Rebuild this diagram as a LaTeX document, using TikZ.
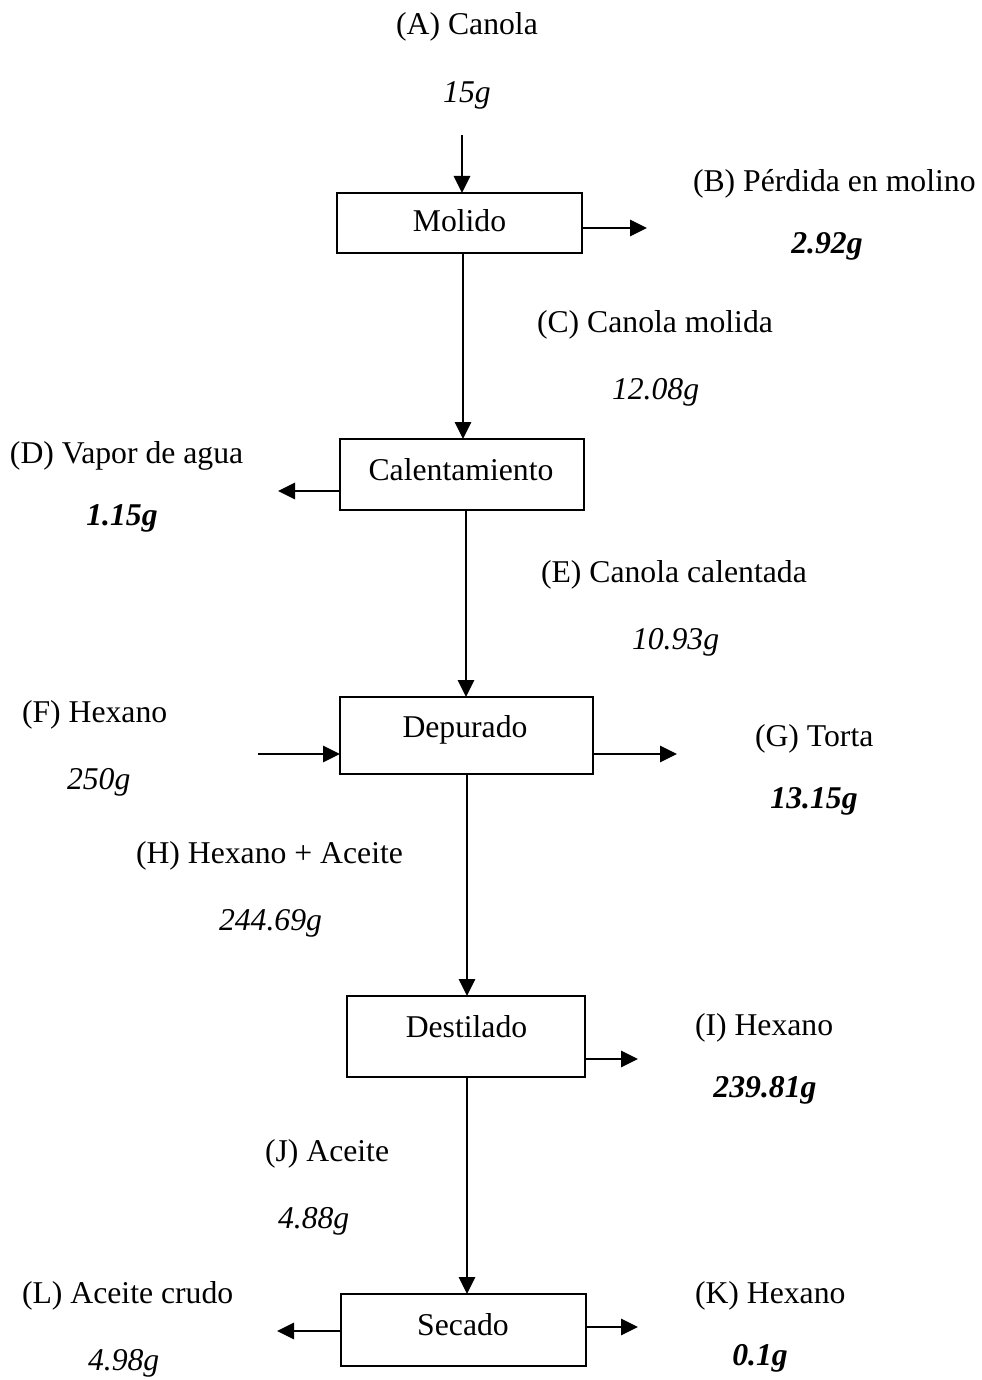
\documentclass[tikz,border=0pt]{standalone}
\usepackage{fontspec}
\setmainfont{Liberation Serif}
\usetikzlibrary{arrows.meta}
\begin{document}
\begin{tikzpicture}[x=0.5pt,y=-0.5pt,
  every node/.style={inner sep=0pt,outer sep=0pt,font=\fontsize{15.85}{19}\selectfont},
  stagebox/.style={draw,line width=1.1pt,rectangle},
  flow/.style={line width=1.45pt,-{Triangle[length=8.5pt,width=8pt]}},
  txt/.style={anchor=base},
  ltxt/.style={anchor=base west},
  qty/.style={font=\fontsize{15.85}{19}\selectfont\itshape},
  bqty/.style={font=\fontsize{15.85}{19}\selectfont\bfseries\itshape}]
\useasboundingbox (0,0) rectangle (981,1380);

% process stages
\node[stagebox,minimum width=122.5pt,minimum height=30pt] (molido) at (459.5,223) {};
\node[txt] (molidoT) at (459.5,232) {Molido};
\node[stagebox,minimum width=122pt,minimum height=35.5pt] (cal) at (462,474.5) {};
\node[txt] (calT) at (461,480) {Calentamiento};
\node[stagebox,minimum width=126.5pt,minimum height=38.5pt] (dep) at (466.5,735.5) {};
\node[txt] (depT) at (465,737) {Depurado};
\node[stagebox,minimum width=119pt,minimum height=40.5pt] (dest) at (466,1036.5) {};
\node[txt] (destT) at (466.5,1037) {Destilado};
\node[stagebox,minimum width=122.5pt,minimum height=36pt] (sec) at (463.5,1330) {};
\node[txt] (secT) at (463,1335) {Secado};

% stream labels
\node[txt] (A) at (467,35) {(A) Canola};
\node[txt,qty] (Aq) at (467,103) {15g};
\node[ltxt] (B) at (693,192) {(B) Pérdida en molino};
\node[txt,bqty] (Bq) at (827,254) {2.92g};
\node[ltxt] (C) at (537,332) {(C) Canola molida};
\node[ltxt,qty] (Cq) at (612,399) {12.08g};
\node[ltxt] (D) at (10,463) {(D) Vapor de agua};
\node[txt,bqty] (Dq) at (122,525) {1.15g};
\node[ltxt] (E) at (541,582) {(E) Canola calentada};
\node[ltxt,qty] (Eq) at (632,649) {10.93g};
\node[ltxt] (F) at (22,722) {(F) Hexano};
\node[ltxt,qty] (Fq) at (67,789) {250g};
\node[ltxt] (G) at (755,746) {(G) Torta};
\node[txt,bqty] (Gq) at (814,808) {13.15g};
\node[ltxt] (H) at (136,863) {(H) Hexano + Aceite};
\node[ltxt,qty] (Hq) at (219,930) {244.69g};
\node[ltxt] (I) at (695,1035) {(I) Hexano};
\node[txt,bqty] (Iq) at (765,1097) {239.81g};
\node[ltxt] (J) at (265,1161) {(J) Aceite};
\node[ltxt,qty] (Jq) at (278,1228) {4.88g};
\node[ltxt] (L) at (22,1303) {(L) Aceite crudo};
\node[ltxt,qty] (Lq) at (88,1370) {4.98g};
\node[ltxt] (K) at (695,1303) {(K) Hexano};
\node[txt,bqty] (Kq) at (760,1365) {0.1g};

% free ends of the side streams
\coordinate (aIn) at (462,135);
\coordinate (bOut) at (647,228);
\coordinate (dOut) at (278,491);
\coordinate (fIn) at (258,754);
\coordinate (gOut) at (677,754);
\coordinate (iOut) at (638,1059);
\coordinate (lOut) at (277,1331);
\coordinate (kOut) at (638,1327);
% main line positions
\coordinate (x1) at (463,0);
\coordinate (x2) at (466,0);
\coordinate (x3) at (467,0);

% main flow
\draw[flow] (aIn) -- (aIn |- molido.north);
\draw[flow] (x1 |- molido.south) -- (x1 |- cal.north);
\draw[flow] (x2 |- cal.south) -- (x2 |- dep.north);
\draw[flow] (x3 |- dep.south) -- (x3 |- dest.north);
\draw[flow] (x3 |- dest.south) -- (x3 |- sec.north);

% side streams
\draw[flow] (bOut -| molido.east) -- (bOut);
\draw[flow] (dOut -| cal.west) -- (dOut);
\draw[flow] (fIn) -- (fIn -| dep.west);
\draw[flow] (gOut -| dep.east) -- (gOut);
\draw[flow] (iOut -| dest.east) -- (iOut);
\draw[flow] (lOut -| sec.west) -- (lOut);
\draw[flow] (kOut -| sec.east) -- (kOut);
\end{tikzpicture}
\end{document}
